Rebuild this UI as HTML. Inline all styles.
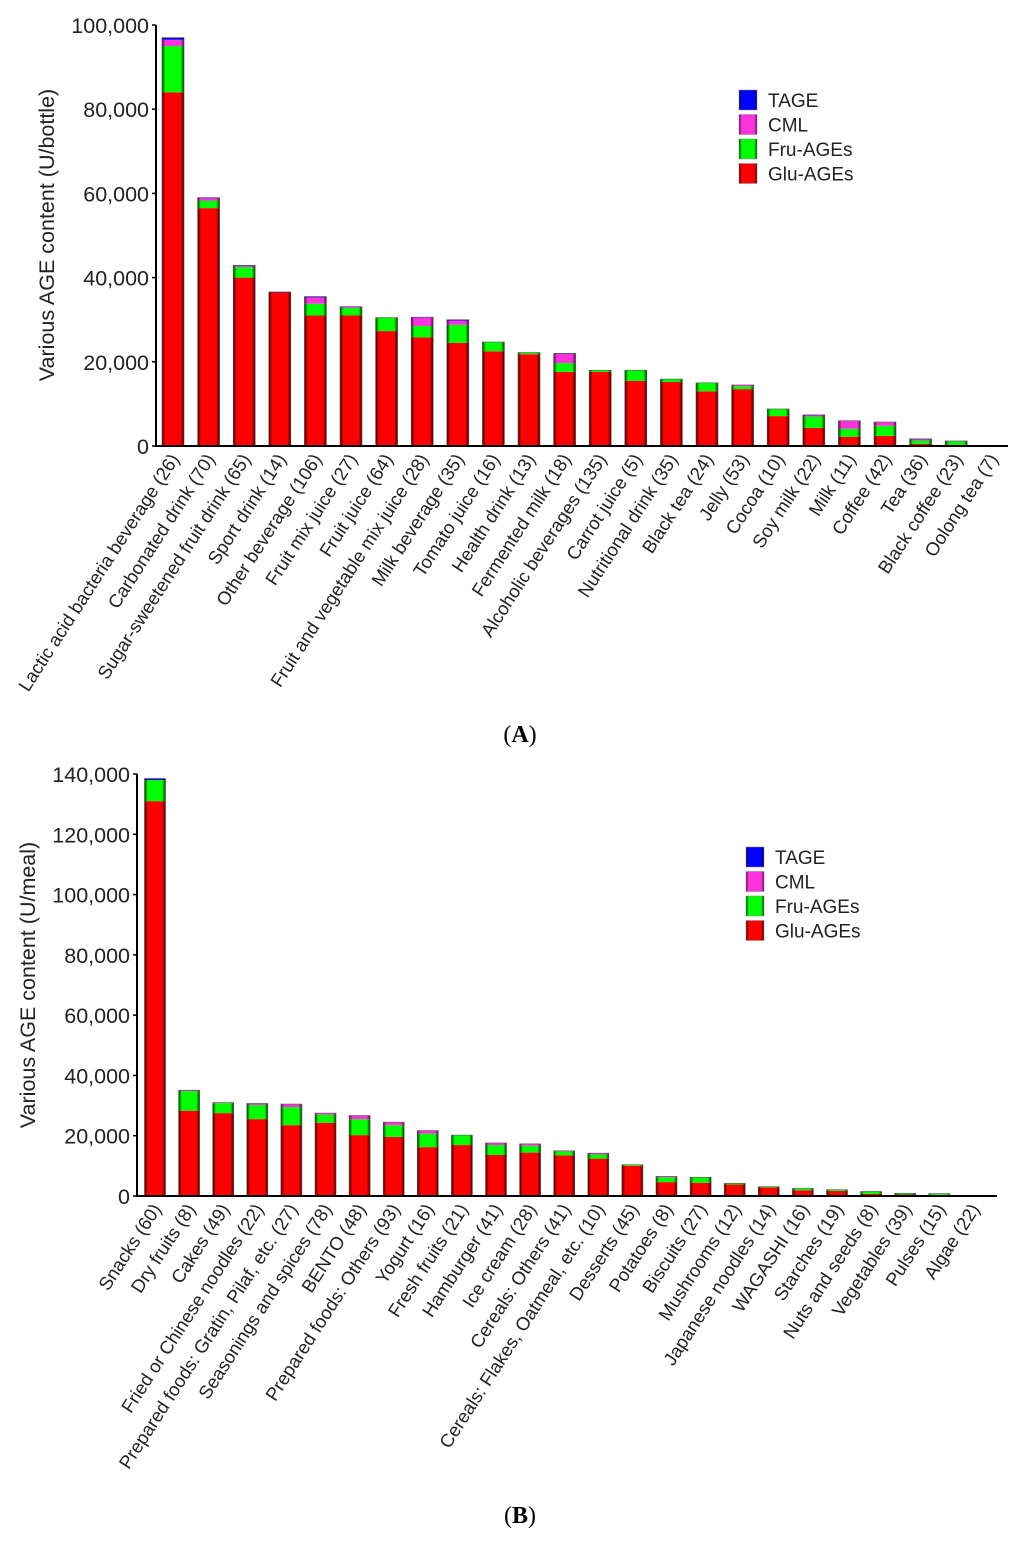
<!DOCTYPE html>
<html><head><meta charset="utf-8"><style>
html,body{margin:0;padding:0;background:#fff;}
svg{display:block;font-family:"Liberation Sans",Arial,sans-serif;}
</style></head><body>
<svg id="fig" width="1024" height="1542" viewBox="0 0 1024 1542" xmlns="http://www.w3.org/2000/svg">
<defs>
<linearGradient id="gRed" x1="0" x2="1"><stop offset="0" stop-color="#3a0000"/><stop offset="0.15" stop-color="#ff0000"/><stop offset="0.85" stop-color="#ff0000"/><stop offset="1" stop-color="#3a0000"/></linearGradient>
<linearGradient id="gGreen" x1="0" x2="1"><stop offset="0" stop-color="#003a00"/><stop offset="0.15" stop-color="#00ff00"/><stop offset="0.85" stop-color="#00ff00"/><stop offset="1" stop-color="#003a00"/></linearGradient>
<linearGradient id="gPink" x1="0" x2="1"><stop offset="0" stop-color="#5a005a"/><stop offset="0.15" stop-color="#ff33dd"/><stop offset="0.85" stop-color="#ff33dd"/><stop offset="1" stop-color="#5a005a"/></linearGradient>
<linearGradient id="gBlue" x1="0" x2="1"><stop offset="0" stop-color="#00003a"/><stop offset="0.15" stop-color="#0000ff"/><stop offset="0.85" stop-color="#0000ff"/><stop offset="1" stop-color="#00003a"/></linearGradient>
</defs>
<text x="520" y="742" font-family="Liberation Serif, serif" font-size="24" text-anchor="middle">(<tspan font-weight="bold">A</tspan>)</text>
<text x="520" y="1523" font-family="Liberation Serif, serif" font-size="24" text-anchor="middle">(<tspan font-weight="bold">B</tspan>)</text>
</svg>
<script>
// ---- Panel A data (thousand units) ----
const catsA = ["Lactic acid bacteria beverage (26)","Carbonated drink (70)","Sugar-sweetened fruit drink (65)","Sport drink (14)","Other beverage (106)","Fruit mix juice (27)","Fruit juice (64)","Fruit and vegetable mix juice (28)","Milk beverage (35)","Tomato juice (16)","Health drink (13)","Fermented milk (18)","Alcoholic beverages (135)","Carrot juice (5)","Nutritional drink (35)","Black tea (24)","Jelly (53)","Cocoa (10)","Soy milk (22)","Milk (11)","Coffee (42)","Tea (36)","Black coffee (23)","Oolong tea (7)"];
const gluA = [84,56.5,40,36.5,31,31,27.3,25.8,24.5,22.5,21.8,17.6,17.6,15.5,15.2,13,13.5,7.1,4.3,2.2,2.4,0.5,0.3,0.05];
const fruA = [11,1.8,2.5,0,2.8,1.8,3.2,2.7,4.3,2.2,0.4,2.1,0.4,2.5,0.7,2,0.7,1.7,2.7,1.9,2.4,0.8,0.8,0.05];
const cmlA = [1.5,0.6,0.3,0,1.5,0.2,0,2,1,0,0,2.2,0,0,0,0,0.3,0,0.3,1.9,0.9,0.3,0.1,0];
const tageA = [0.5,0.1,0.1,0.1,0.2,0.1,0,0.1,0.2,0,0,0.1,0,0,0,0,0,0,0.1,0,0,0.1,0,0];
const ticksA = [0,20000,40000,60000,80000,100000];
const tickLabelsA = ["0","20,000","40,000","60,000","80,000","100,000"];

// ---- Panel B data (thousand units) ----
const catsB = ["Snacks (60)","Dry fruits (8)","Cakes (49)","Fried or Chinese noodles (22)","Prepared foods: Gratin, Pilaf, etc. (27)","Seasonings and spices (78)","BENTO (48)","Prepared foods: Others (93)","Yogurt (16)","Fresh fruits (21)","Hamburger (41)","Ice cream (28)","Cereals: Others (41)","Cereals: Flakes, Oatmeal, etc. (10)","Desserts (45)","Potatoes (8)","Biscuits (27)","Mushrooms (12)","Japanese noodles (14)","WAGASHI (16)","Starches (19)","Nuts and seeds (8)","Vegetables (39)","Pulses (15)","Algae (22)"];
const gluB = [131,28.3,27.5,25.5,23.5,24.3,20.2,19.6,16.2,16.9,13.6,14.4,13.5,12.4,10,4.6,4.4,3.8,2.8,1.9,1.7,0.7,0.5,0.4,0.05];
const fruB = [7,6.5,3.3,4.7,6,2.7,5.3,3.9,4.5,3.3,3.3,2.3,1.3,1.4,0.4,1.6,1.8,0.4,0.3,0.6,0.4,0.8,0.4,0.4,0.05];
const cmlB = [0,0.3,0.2,0.5,1,0.5,1.2,1,1,0,0.7,0.6,0.2,0.4,0,0.3,0,0,0,0,0,0,0,0,0];
const tageB = [0.5,0,0,0,0,0,0,0,0,0,0,0,0,0,0,0,0,0,0,0,0,0,0,0,0];
const ticksB = [0,20000,40000,60000,80000,100000,120000,140000];
const tickLabelsB = ["0","20,000","40,000","60,000","80,000","100,000","120,000","140,000"];

const legendNames = ["TAGE","CML","Fru-AGEs","Glu-AGEs"];
const fills = {glu:"url(#gRed)",fru:"url(#gGreen)",cml:"url(#gPink)",tage:"url(#gBlue)"};
const NS="http://www.w3.org/2000/svg";
const svg=document.getElementById('fig');
function mk(tag,attrs,parent){const e=document.createElementNS(NS,tag);for(const k in attrs)e.setAttribute(k,attrs[k]);(parent||svg).appendChild(e);return e;}

function drawPanel(cfg){
  const g=mk('g',{});
  
  
  const y=v=>cfg.y0-(v-0)/cfg.yMax*(cfg.y0-cfg.yTop);
  const xc=i=>cfg.x0+cfg.first+i*cfg.step;
  cfg.cats.forEach((c,i)=>{
    const segs=[["glu",cfg.glu[i]],["fru",cfg.fru[i]],["cml",cfg.cml[i]],["tage",cfg.tage[i]]];
    let acc=0;
    const bg=mk('g',{},g);
    
    
    segs.forEach(([k,v])=>{
      if(v<=0)return;
      const yt=y((acc+v)*1000), yb=y(acc*1000);
      const r=mk('rect',{x:xc(i)-cfg.bw/2,y:yt,width:cfg.bw,height:Math.max(yb-yt,0.5),fill:fills[k]},bg);
      
      
      acc+=v;
    });
    const tot=acc;
    mk('rect',{x:xc(i)-cfg.bw/2,y:y(tot*1000),width:cfg.bw,height:y(0)-y(tot*1000),fill:'none',stroke:'#555','stroke-width':0.6},bg);
    const lx=xc(i)+7, ly=cfg.y0+13;
    const t=mk('text',{x:lx,y:ly,'font-size':18.5,'text-anchor':'end',transform:`rotate(-57 ${lx} ${ly})`,fill:'#222'},g);
    t.textContent=c;
    
    
  });
  const ax=mk('path',{d:`M${cfg.x0} ${cfg.yTop} V${cfg.y0} H${cfg.xEnd}`,stroke:'#000','stroke-width':2,fill:'none'},g);
  
  
  cfg.ticks.forEach((tv,j)=>{
    mk('line',{x1:cfg.x0-4,x2:cfg.x0,y1:y(tv),y2:y(tv),stroke:'#000','stroke-width':1.5},g);
    const t=mk('text',{x:cfg.x0-7,y:y(tv)+8,'font-size':21.5,'text-anchor':'end',fill:'#222'},g);
    t.textContent=cfg.tickLabels[j];
    
    
  });
  const yt=mk('text',{x:cfg.titleX,y:cfg.titleY,'font-size':21.5,'text-anchor':'middle',transform:`rotate(-90 ${cfg.titleX} ${cfg.titleY})`,fill:'#222'},g);
  yt.textContent=cfg.title;
  
  
  const lg=mk('g',{},g);
  
  
  const lf=[fills.tage,fills.cml,fills.fru,fills.glu];
  legendNames.forEach((n,j)=>{
    const e=mk('g',{},lg);
    
    
    mk('rect',{x:cfg.legX,y:cfg.legY+j*24.5,width:18,height:20,fill:lf[j],stroke:'#888','stroke-width':0.5},e);
    const t=mk('text',{x:cfg.legX+29,y:cfg.legY+j*24.5+17,'font-size':19,fill:'#222'},e);
    t.textContent=n;
  });
}
drawPanel({id:'a',cats:catsA,glu:gluA,fru:fruA,cml:cmlA,tage:tageA,ticks:ticksA,tickLabels:tickLabelsA,
  x0:156,xEnd:1008,first:17,step:35.6,bw:22,y0:446,yTop:25,yMax:100000,
  title:'Various AGE content (U/bottle)',titleX:54,titleY:235,legX:739,legY:90});
drawPanel({id:'b',cats:catsB,glu:gluB,fru:fruB,cml:cmlB,tage:tageB,ticks:ticksB,tickLabels:tickLabelsB,
  x0:137,xEnd:997,first:18,step:34.1,bw:21,y0:1196,yTop:774,yMax:140000,
  title:'Various AGE content (U/meal)',titleX:35,titleY:985,legX:746,legY:847});
</script>
</body></html>
